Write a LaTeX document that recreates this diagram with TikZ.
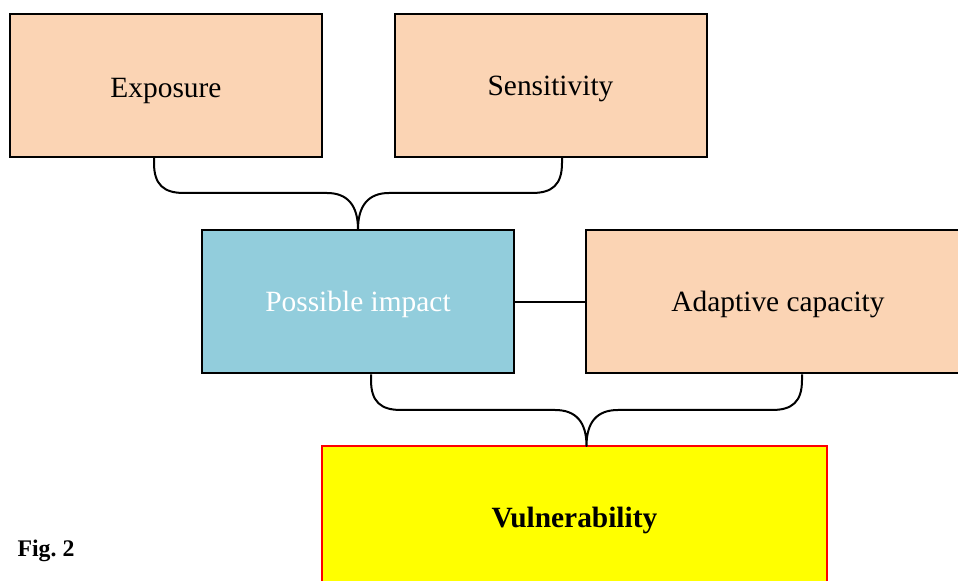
\documentclass[tikz,border=0pt]{standalone}
\usepackage{fontspec}
\setmainfont{Liberation Serif}
\definecolor{peach}{HTML}{FBD4B4}
\definecolor{impactblue}{HTML}{92CDDC}
\definecolor{vulnyellow}{HTML}{FFFF00}
\definecolor{vulnred}{HTML}{FF0000}
\newcommand{\baselab}[2]{\raisebox{-#1}[0pt][0pt]{#2}}
\begin{document}
\begin{tikzpicture}[x=0.5pt,y=-0.5pt,
  box/.style={draw=black,line width=1pt,minimum width=156pt,minimum height=71.5pt,inner sep=0pt,font=\fontsize{14.7}{17}\selectfont},
  peachbox/.style={box,fill=peach},
  brace/.style={draw=black,line width=1pt,line join=round}]
\useasboundingbox (0,0) rectangle (958,581);
\clip (0,0) rectangle (958,581);
\fill[white] (0,0) rectangle (958,581);
\node[peachbox] (exp) at (166,85.5) {\baselab{6.25pt}{Exposure}};
\node[peachbox] (sen) at (550.5,85.5) {\baselab{5.25pt}{Sensitivity}};
\node[box,fill=impactblue,text=white] (imp) at (358,302) {\baselab{4.75pt}{Possible impact}};
\node[peachbox,minimum width=192pt] (ada) at (778,302) {\baselab{4.75pt}{Adaptive capacity}};
\node[box,draw=vulnred,fill=vulnyellow,minimum width=252.5pt,minimum height=72pt,font=\fontsize{14.7}{17}\selectfont\bfseries] (vul) at (574.5,518) {\baselab{4.75pt}{Vulnerability}};
\node[font=\fontsize{11.9}{14}\selectfont\bfseries] (fig) at (46,551) {Fig.~2};
% connector between impact and adaptive capacity
\draw[line width=1pt] (imp.east) -- (ada.west);
% brace 1
\coordinate (b1l) at (154,157.5);
\coordinate (b1r) at (562,157.5);
\coordinate (b1t) at (imp.north);
\draw[brace] (b1l) -- (154,163) .. controls (154,185) and (164,193) .. (184,193) -- (327,193) .. controls (348,193) and (358,206) .. (b1t)
  .. controls (358,206) and (368,193) .. (389,193) -- (532,193) .. controls (552,193) and (562,185) .. (562,163) -- (b1r);
% brace 2
\coordinate (b2l) at (371,374.5);
\coordinate (b2r) at (802,374.5);
\coordinate (b2t) at (586.5,446);
\draw[brace] (b2l) -- (371,380) .. controls (371,402) and (381,410) .. (401,410) -- (555,410) .. controls (576,410) and (586.5,422) .. (b2t)
  .. controls (586.5,422) and (597,410) .. (618,410) -- (772,410) .. controls (792,410) and (802,402) .. (802,380) -- (b2r);
\end{tikzpicture}
\end{document}
